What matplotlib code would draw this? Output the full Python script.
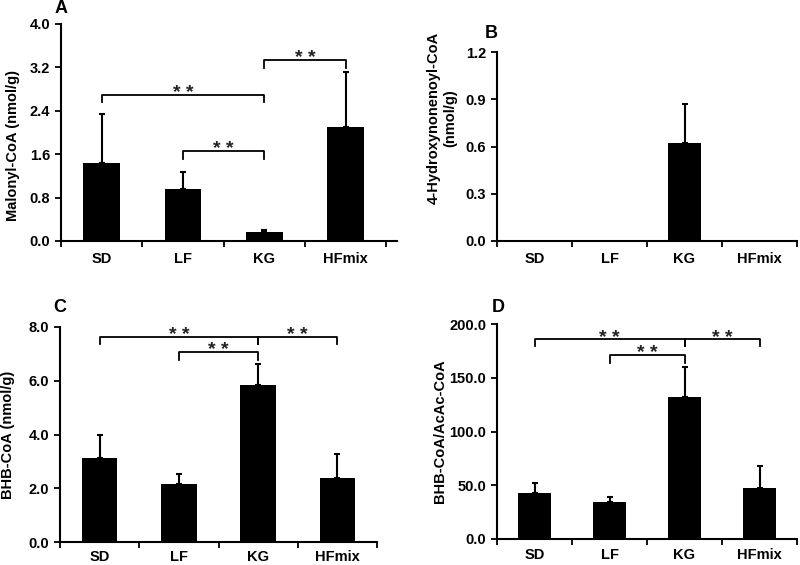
import numpy as np
import matplotlib
matplotlib.use("Agg")
import matplotlib.pyplot as plt

plt.rcParams['font.family'] = ['Liberation Sans', 'DejaVu Sans']
plt.rcParams['font.weight'] = 'bold'

# data
groups = ["SD", "LF", "KG", "HFmix"]

malonyl_mean = [1.43, 0.96, 0.16, 2.11]
malonyl_err = [0.92, 0.31, 0.04, 1.01]

hne_mean = [0.0, 0.0, 0.62, 0.0]
hne_err = [0.0, 0.0, 0.25, 0.0]

bhb_mean = [3.14, 2.15, 5.83, 2.39]
bhb_err = [0.85, 0.39, 0.78, 0.90]

ratio_mean = [42.8, 34.4, 131.8, 47.4]
ratio_err = [9.3, 4.7, 28.2, 20.2]

# brackets: (left group, right group, bar height, tick bottom)
malonyl_sig = [(0, 2, 2.70, 2.57), (1, 2, 1.66, 1.52), (2, 3, 3.34, 3.18)]
bhb_sig = [(0, 2, 7.63, 7.38), (1, 2, 7.07, 6.76), (2, 3, 7.63, 7.38)]
ratio_sig = [(0, 2, 186.0, 180.0), (1, 2, 171.5, 163.7), (2, 3, 186.0, 180.0)]

W, H = 800, 565
fig = plt.figure(figsize=(W / 100, H / 100), dpi=100)


def px_axes(x0, y0, x1, y1):
    return fig.add_axes([x0 / W, 1 - y1 / H, (x1 - x0) / W, (y1 - y0) / H])


def draw_panel(ax, means, errs, ymax, step, ylabel, sig, xright=3.5,
               label_xy=(-0.15, 0.5), xpad=8):
    x = np.arange(len(groups))
    ax.bar(x, means, width=0.45, color='black', zorder=2)
    shown = [i for i in range(len(groups)) if errs[i] > 0]
    ax.errorbar(x[shown], np.array(means)[shown],
                yerr=[np.zeros(len(shown)), np.array(errs)[shown]],
                fmt='none', ecolor='black', elinewidth=1.5, capsize=2.5,
                capthick=1.5, zorder=3)
    ax.set_xlim(-0.5, xright)
    ax.set_ylim(0, ymax)
    ax.set_yticks(np.arange(0, ymax + step / 2, step))
    ax.yaxis.set_major_formatter(matplotlib.ticker.FormatStrFormatter('%.1f'))
    ax.set_xticks(x)
    ax.set_xticklabels(groups, fontsize=10.5, fontweight='bold')
    ax.set_xticks(np.arange(-0.5, 3.6, 1.0), minor=True)
    ax.tick_params(axis='x', which='major', length=0, pad=xpad)
    ax.tick_params(axis='x', which='minor', length=4.3, width=1.3, direction='out')
    ax.tick_params(axis='y', length=4.3, width=1.3, direction='out',
                   labelsize=10.5, pad=3.5)
    for lab in ax.get_yticklabels():
        lab.set_fontweight('bold')
    for s in ['top', 'right']:
        ax.spines[s].set_visible(False)
    for s in ['left', 'bottom']:
        ax.spines[s].set_linewidth(1.5)
    ax.set_ylabel(ylabel, fontsize=10.5, fontweight='bold',
                  multialignment='center')
    ax.yaxis.set_label_coords(*label_xy)
    for a, b, yb, yt in sig:
        ax.plot([a, a, b, b], [yt, yb, yb, yt], color='black', lw=1.3,
                zorder=4, clip_on=False)
        ax.annotate('* *', xy=((a + b) / 2, yb), xytext=(0, -2.5),
                    textcoords='offset points', ha='center', va='baseline',
                    fontsize=14, fontweight='bold', color='#222222')


axA = px_axes(61, 24, 397, 241)
draw_panel(axA, malonyl_mean, malonyl_err, 4.0, 0.8, 'Malonyl-CoA (nmol/g)',
           malonyl_sig, xright=3.63, label_xy=(-0.122, 0.44))

axB = px_axes(497, 52, 797, 241)
draw_panel(axB, hne_mean, hne_err, 1.2, 0.3,
           '4-Hydroxynonenoyl-CoA\n(nmol/g)', [], label_xy=(-0.133, 0.65))

axC = px_axes(60, 327, 377, 542)
draw_panel(axC, bhb_mean, bhb_err, 8.0, 2.0, 'BHB-CoA (nmol/g)', bhb_sig,
           label_xy=(-0.142, 0.5), xpad=5.5)

axD = px_axes(497, 324, 797, 539)
draw_panel(axD, ratio_mean, ratio_err, 200.0, 50.0, 'BHB-CoA/AcAc-CoA',
           ratio_sig, label_xy=(-0.167, 0.5), xpad=6.5)

# panel letters, placed in figure pixels
for letter, lx, ly in [('A', 55, 0), ('B', 485, 25), ('C', 53, 299), ('D', 492, 299)]:
    fig.text(lx / W, 1 - ly / H, letter, fontsize=13, fontweight='bold',
             ha='left', va='top')

fig.savefig('out.png', dpi=100)
